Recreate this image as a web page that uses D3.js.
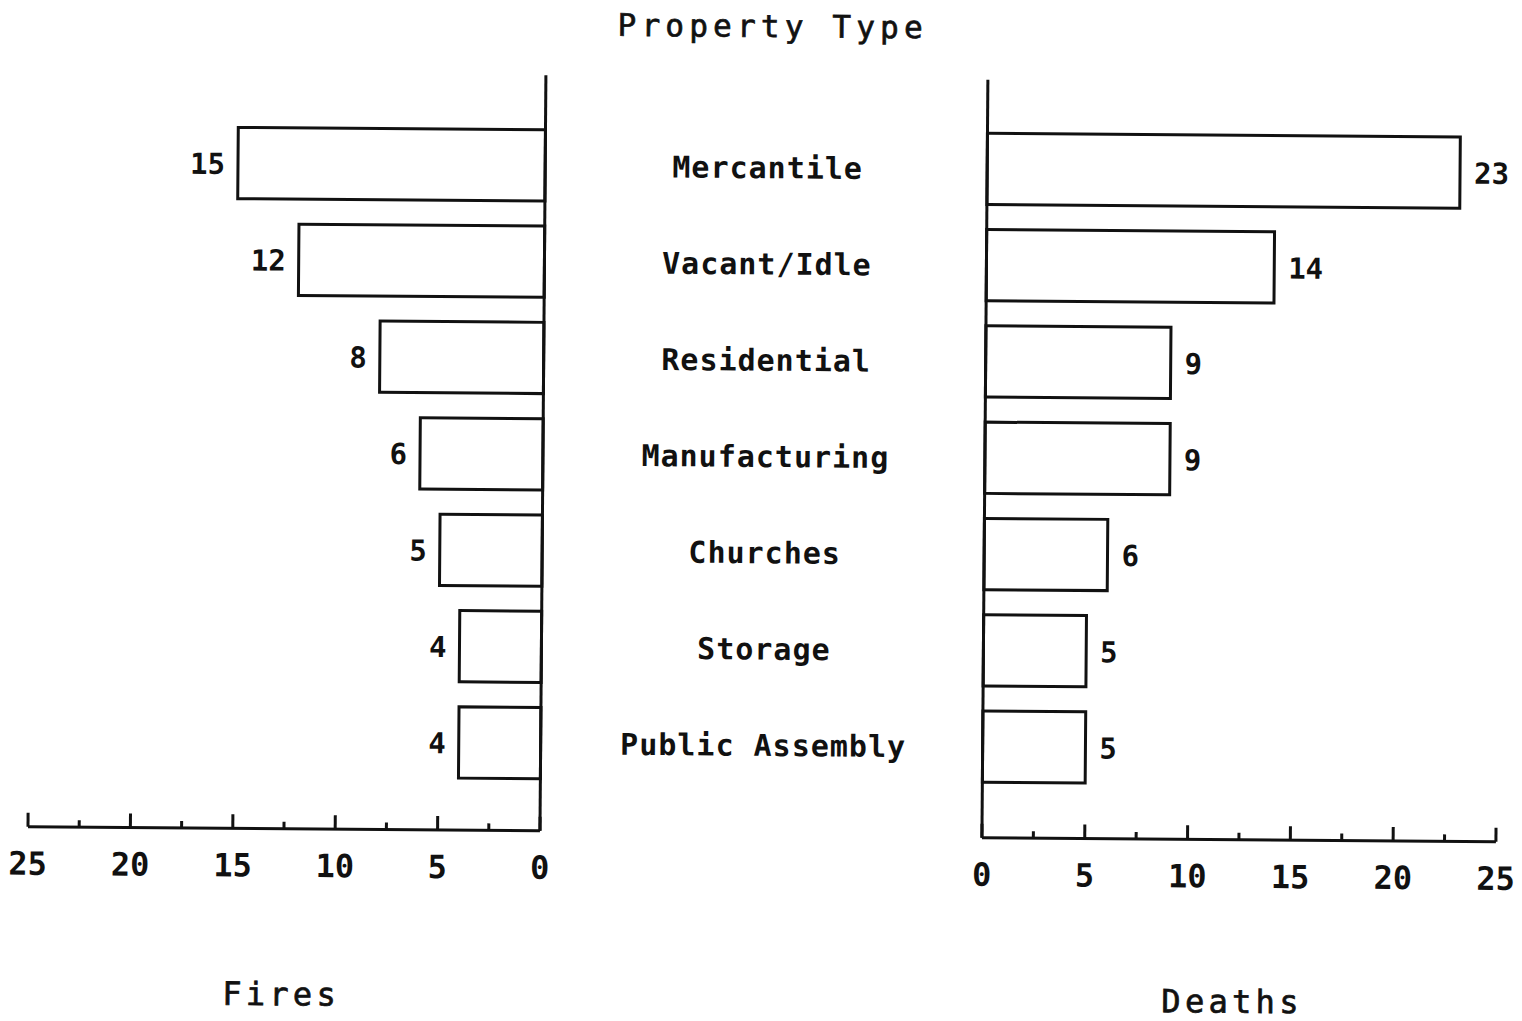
<!DOCTYPE html>
<html>
<head>
<meta charset="utf-8">
<script src="https://cdn.jsdelivr.net/npm/d3@7"></script>
<style>
  body { margin: 0; background: #fff; }
  text { font-family: "DejaVu Sans Mono", "Liberation Mono", monospace; fill: #111; }
  .plain { stroke: #111; stroke-width: 0.7; }
</style>
</head>
<body>
<div id="vis"></div>
<script>
var categories = ['Mercantile', 'Vacant/Idle', 'Residential', 'Manufacturing', 'Churches', 'Storage', 'Public Assembly'];
var fires = [15, 12, 8, 6, 5, 4, 4];
var deaths = [23, 14, 9, 9, 6, 5, 5];
var majorTicks = [0, 5, 10, 15, 20, 25];
var minorTicks = [2.5, 7.5, 12.5, 17.5, 22.5];

var width = 1522;
var height = 1021;

var svg = d3.select('#vis')
  .append('svg')
  .attr('width', width)
  .attr('height', height);

// the scan is tilted a little clockwise
var g = svg.append('g')
  .attr('transform', 'rotate(0.45, 761, 510)');

var y = d3.scaleBand()
  .domain(categories)
  .range([119, 793])
  .paddingInner(0.26)
  .paddingOuter(0.13);

var xLeft = d3.scaleLinear().domain([0, 25]).range([542.5, 30.5]);
var xRight = d3.scaleLinear().domain([0, 25]).range([984.5, 1498.5]);

var stroke = '#111';

function drawPanel(x, values, baseY, topY, side) {
  var p = g.append('g');

  // bars
  p.selectAll('.bar')
    .data(values)
    .enter().append('rect')
    .attr('class', 'bar')
    .attr('x', function (d) { return Math.min(x(0), x(d)); })
    .attr('y', function (d, i) { return y(categories[i]); })
    .attr('width', function (d) { return Math.abs(x(d) - x(0)); })
    .attr('height', y.bandwidth())
    .attr('fill', 'none')
    .attr('stroke', stroke)
    .attr('stroke-width', 3);

  // value labels
  p.selectAll('.val')
    .data(values)
    .enter().append('text')
    .attr('class', 'val')
    .attr('x', function (d) { return x(d) + (side === 'left' ? -13 : 14); })
    .attr('y', function (d, i) { return y(categories[i]) + y.bandwidth() / 2 + 11; })
    .attr('text-anchor', side === 'left' ? 'end' : 'start')
    .attr('font-size', 29)
    .attr('font-weight', 'bold')
    .text(function (d) { return d; });

  // vertical axis
  p.append('line')
    .attr('x1', x(0)).attr('x2', x(0))
    .attr('y1', topY).attr('y2', baseY)
    .attr('stroke', stroke)
    .attr('stroke-width', 3);

  // bottom axis
  p.append('line')
    .attr('x1', x(0)).attr('x2', x(25))
    .attr('y1', baseY).attr('y2', baseY)
    .attr('stroke', stroke)
    .attr('stroke-width', 3);

  p.selectAll('.major')
    .data(majorTicks)
    .enter().append('line')
    .attr('class', 'major')
    .attr('x1', function (d) { return x(d); })
    .attr('x2', function (d) { return x(d); })
    .attr('y1', baseY).attr('y2', baseY - 14)
    .attr('stroke', stroke)
    .attr('stroke-width', 3);

  p.selectAll('.minor')
    .data(minorTicks)
    .enter().append('line')
    .attr('class', 'minor')
    .attr('x1', function (d) { return x(d); })
    .attr('x2', function (d) { return x(d); })
    .attr('y1', baseY).attr('y2', baseY - 7)
    .attr('stroke', stroke)
    .attr('stroke-width', 3);

  p.selectAll('.tick')
    .data(majorTicks)
    .enter().append('text')
    .attr('class', 'tick')
    .attr('x', function (d) { return x(d); })
    .attr('y', baseY + 48)
    .attr('text-anchor', 'middle')
    .attr('font-size', 32)
    .attr('font-weight', 'bold')
    .text(function (d) { return d; });
}

drawPanel(xLeft, fires, 832.5, 77, 'left');
drawPanel(xRight, deaths, 836, 78, 'right');

// category names in the middle
g.selectAll('.cat')
  .data(categories)
  .enter().append('text')
  .attr('class', 'cat')
  .attr('x', 765)
  .attr('y', function (d) { return y(d) + y.bandwidth() / 2 + 11; })
  .attr('text-anchor', 'middle')
  .attr('font-size', 30)
  .attr('font-weight', 'bold')
  .attr('letter-spacing', 1)
  .text(function (d) { return d; });

g.append('text')
  .attr('class', 'plain')
  .attr('x', 769)
  .attr('y', 37)
  .attr('text-anchor', 'middle')
  .attr('font-size', 31)
  .attr('letter-spacing', 5.2)
  .text('Property Type');

g.append('text')
  .attr('class', 'plain')
  .attr('x', 285)
  .attr('y', 1009)
  .attr('text-anchor', 'middle')
  .attr('font-size', 32)
  .attr('letter-spacing', 4.3)
  .text('Fires');

g.append('text')
  .attr('class', 'plain')
  .attr('x', 1236)
  .attr('y', 1009)
  .attr('text-anchor', 'middle')
  .attr('font-size', 32)
  .attr('letter-spacing', 4.3)
  .text('Deaths');
</script>
</body>
</html>
